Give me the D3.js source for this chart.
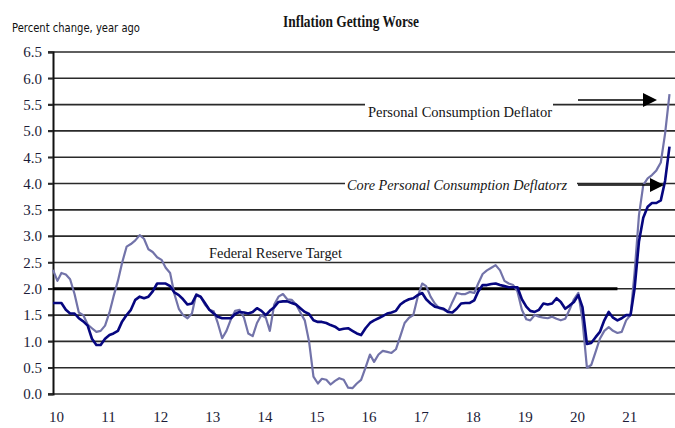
<!DOCTYPE html>
<html>
<head>
<meta charset="utf-8">
<script src="https://cdn.jsdelivr.net/npm/d3@7"></script>
<style>
  html, body { margin: 0; padding: 0; background: #fff; }
  svg { display: block; }
</style>
</head>
<body>
<svg id="chart" width="675" height="428"></svg>
<script>
// ---- Data (monthly, Jan 2010 - Nov 2021), percent change year ago ----
const startYear = 2010;
const pce = [
  2.36, 2.15, 2.30, 2.27, 2.18, 1.90, 1.55, 1.50, 1.32, 1.25, 1.18, 1.20,
  1.30, 1.55, 1.85, 2.15, 2.50, 2.80, 2.85, 2.92, 3.02, 2.95, 2.75, 2.70,
  2.60, 2.55, 2.40, 2.30, 1.90, 1.62, 1.50, 1.44, 1.53, 1.90, 1.85, 1.70,
  1.60, 1.57, 1.35, 1.06, 1.20, 1.42, 1.58, 1.60, 1.45, 1.15, 1.10, 1.35,
  1.50, 1.45, 1.20, 1.70, 1.85, 1.90, 1.80, 1.79, 1.70, 1.55, 1.40, 1.00,
  0.33, 0.20, 0.29, 0.27, 0.18, 0.25, 0.30, 0.27, 0.12, 0.11, 0.20, 0.27,
  0.50, 0.75, 0.61, 0.75, 0.82, 0.80, 0.78, 0.85, 1.10, 1.35, 1.45, 1.50,
  1.85, 2.10, 2.05, 1.85, 1.72, 1.63, 1.60, 1.56, 1.75, 1.92, 1.90, 1.90,
  1.94, 1.92, 2.10, 2.28, 2.35, 2.40, 2.45, 2.35, 2.15, 2.10, 2.07, 1.95,
  1.60, 1.42, 1.40, 1.50, 1.47, 1.45, 1.44, 1.47, 1.43, 1.40, 1.43, 1.60,
  1.80, 1.92, 1.40, 0.50, 0.55, 0.80, 1.05, 1.20, 1.27, 1.20, 1.16, 1.18,
  1.40, 1.50, 2.30, 3.40, 3.97, 4.10, 4.16, 4.25, 4.40, 4.95, 5.70
];
const corePce = [
  1.73, 1.73, 1.73, 1.60, 1.53, 1.53, 1.44, 1.38, 1.30, 1.05, 0.93, 0.93,
  1.05, 1.12, 1.15, 1.20, 1.38, 1.50, 1.60, 1.79, 1.85, 1.82, 1.85, 1.95,
  2.10, 2.10, 2.10, 2.05, 1.93, 1.88, 1.80, 1.70, 1.72, 1.88, 1.85, 1.73,
  1.60, 1.53, 1.47, 1.44, 1.44, 1.44, 1.52, 1.56, 1.55, 1.53, 1.56, 1.63,
  1.58, 1.50, 1.58, 1.65, 1.75, 1.76, 1.76, 1.73, 1.70, 1.63, 1.56, 1.52,
  1.40, 1.37, 1.37, 1.35, 1.31, 1.28, 1.22, 1.24, 1.25, 1.20, 1.15, 1.12,
  1.25, 1.35, 1.40, 1.44, 1.48, 1.53, 1.55, 1.58, 1.70, 1.76, 1.80, 1.82,
  1.88, 1.92, 1.80, 1.72, 1.66, 1.64, 1.62, 1.56, 1.55, 1.62, 1.72, 1.73,
  1.73, 1.78, 1.95, 2.07, 2.07, 2.09, 2.10, 2.07, 2.05, 2.03, 2.03, 2.03,
  1.80, 1.66, 1.58, 1.56, 1.60, 1.72, 1.70, 1.72, 1.82, 1.75, 1.62, 1.68,
  1.75, 1.88, 1.65, 0.95, 0.97, 1.08, 1.18, 1.40, 1.56, 1.45, 1.40, 1.44,
  1.50, 1.50, 2.00, 2.90, 3.35, 3.56, 3.63, 3.63, 3.68, 4.05, 4.70
];
const yearTicks = [2010, 2011, 2012, 2013, 2014, 2015, 2016, 2017, 2018, 2019, 2020, 2021];
const yTicks = [0, 0.5, 1, 1.5, 2, 2.5, 3, 3.5, 4, 4.5, 5, 5.5, 6, 6.5];
const fedTarget = 2.0;
const fedTargetEnd = [2020, 10];   // target line ends late 2020
const titleText = "Inflation Getting Worse";
const yLabelText = "Percent change, year ago";
const pceLabel = "Personal Consumption Deflator";
const coreLabel = "Core Personal Consumption Deflatorz";
const fedLabel = "Federal Reserve Target";

// ---- Layout ----
const svg = d3.select("#chart");
const W = 675;
const x = d3.scaleTime()
  .domain([new Date(2010, 0, 1), new Date(2022, 0, 1)])
  .range([53, 53 + 12 * 52.1]);
const y = d3.scaleLinear().domain([0, 6.5]).range([394, 52]);
const dateOf = i => new Date(startYear, i, 1);

const serif = "'Liberation Serif', 'Times New Roman', serif";
const sans = "'DejaVu Sans', 'Liberation Sans', sans-serif";
const tickColor = "#1c1c38";

// Gridlines
svg.append("g").selectAll("line").data(yTicks).join("line")
  .attr("x1", 48).attr("x2", W)
  .attr("y1", d => y(d)).attr("y2", d => y(d))
  .attr("stroke", "#2a2a2a").attr("stroke-width", 1.6);

// Y axis
const yAxis = svg.append("g").attr("transform", "translate(53,0)")
  .call(d3.axisLeft(y).tickValues(yTicks).tickFormat(d3.format(".1f")).tickSize(5).tickPadding(6));
yAxis.select(".domain").attr("stroke", "#111").attr("stroke-width", 2);
yAxis.selectAll(".tick line").attr("stroke", "#2a2a2a").attr("stroke-width", 1.6);
yAxis.selectAll(".tick text").attr("font-family", serif).attr("font-size", 15).attr("fill", tickColor);

// X axis labels
const xAxis = svg.append("g").attr("transform", "translate(0,408)")
  .call(d3.axisBottom(x).tickValues(yearTicks.map(yr => new Date(yr, 0, 1)))
    .tickFormat(d3.timeFormat("%y")).tickSize(0).tickPadding(0));
xAxis.select(".domain").remove();
xAxis.selectAll(".tick text").attr("font-family", serif).attr("font-size", 15)
  .attr("fill", tickColor).attr("dx", 3).attr("dy", "0.95em");

// Federal reserve target line
svg.append("line")
  .attr("x1", x(new Date(2010, 0, 1))).attr("x2", x(new Date(fedTargetEnd[0], fedTargetEnd[1], 1)))
  .attr("y1", y(fedTarget)).attr("y2", y(fedTarget))
  .attr("stroke", "#000").attr("stroke-width", 3);

// Series lines
const line = d3.line().x((d, i) => x(dateOf(i))).y(d => y(d));
svg.append("path").datum(pce).attr("d", line)
  .attr("fill", "none").attr("stroke", "#7273a9").attr("stroke-width", 2.2)
  .attr("stroke-linejoin", "round");
svg.append("path").datum(corePce).attr("d", line)
  .attr("fill", "none").attr("stroke", "#06067f").attr("stroke-width", 2.6)
  .attr("stroke-linejoin", "round");

// Title and axis caption
svg.append("text").attr("x", 283).attr("y", 27).text(titleText)
  .attr("font-family", serif).attr("font-weight", "bold").attr("font-size", 17)
  .attr("fill", "#151515").attr("textLength", 136).attr("lengthAdjust", "spacingAndGlyphs");
svg.append("text").attr("x", 12).attr("y", 32).text(yLabelText)
  .attr("font-family", sans).attr("font-size", 11.5).attr("fill", "#111")
  .attr("textLength", 128).attr("lengthAdjust", "spacingAndGlyphs");

// Federal Reserve Target label
svg.append("text").attr("x", 209).attr("y", 258).text(fedLabel)
  .attr("font-family", serif).attr("font-size", 15).attr("fill", "#151515")
  .attr("textLength", 133).attr("lengthAdjust", "spacingAndGlyphs");

// PCE label (with white box masking gridline)
svg.append("rect").attr("x", 365).attr("y", 99).attr("width", 188).attr("height", 22).attr("fill", "#fff");
svg.append("text").attr("x", 368).attr("y", 117).text(pceLabel)
  .attr("font-family", serif).attr("font-size", 15.5).attr("fill", "#151515")
  .attr("textLength", 184).attr("lengthAdjust", "spacingAndGlyphs");

// Core label
svg.append("rect").attr("x", 345).attr("y", 175).attr("width", 232).attr("height", 20).attr("fill", "#fff");
svg.append("text").attr("x", 347).attr("y", 190).text(coreLabel)
  .attr("font-family", serif).attr("font-style", "italic").attr("font-size", 15.5).attr("fill", "#151515")
  .attr("textLength", 220).attr("lengthAdjust", "spacingAndGlyphs");

// Arrows
function arrow(x1, x2, yy) {
  svg.append("line").attr("x1", x1).attr("x2", x2 - 12).attr("y1", yy).attr("y2", yy)
    .attr("stroke", "#000").attr("stroke-width", 1.6);
  svg.append("path")
    .attr("d", `M${x2},${yy} L${x2 - 14},${yy - 7} L${x2 - 14},${yy + 7} Z`)
    .attr("fill", "#000");
}
arrow(578, 657, 100);
arrow(578, 664, 185);
</script>
</body>
</html>
